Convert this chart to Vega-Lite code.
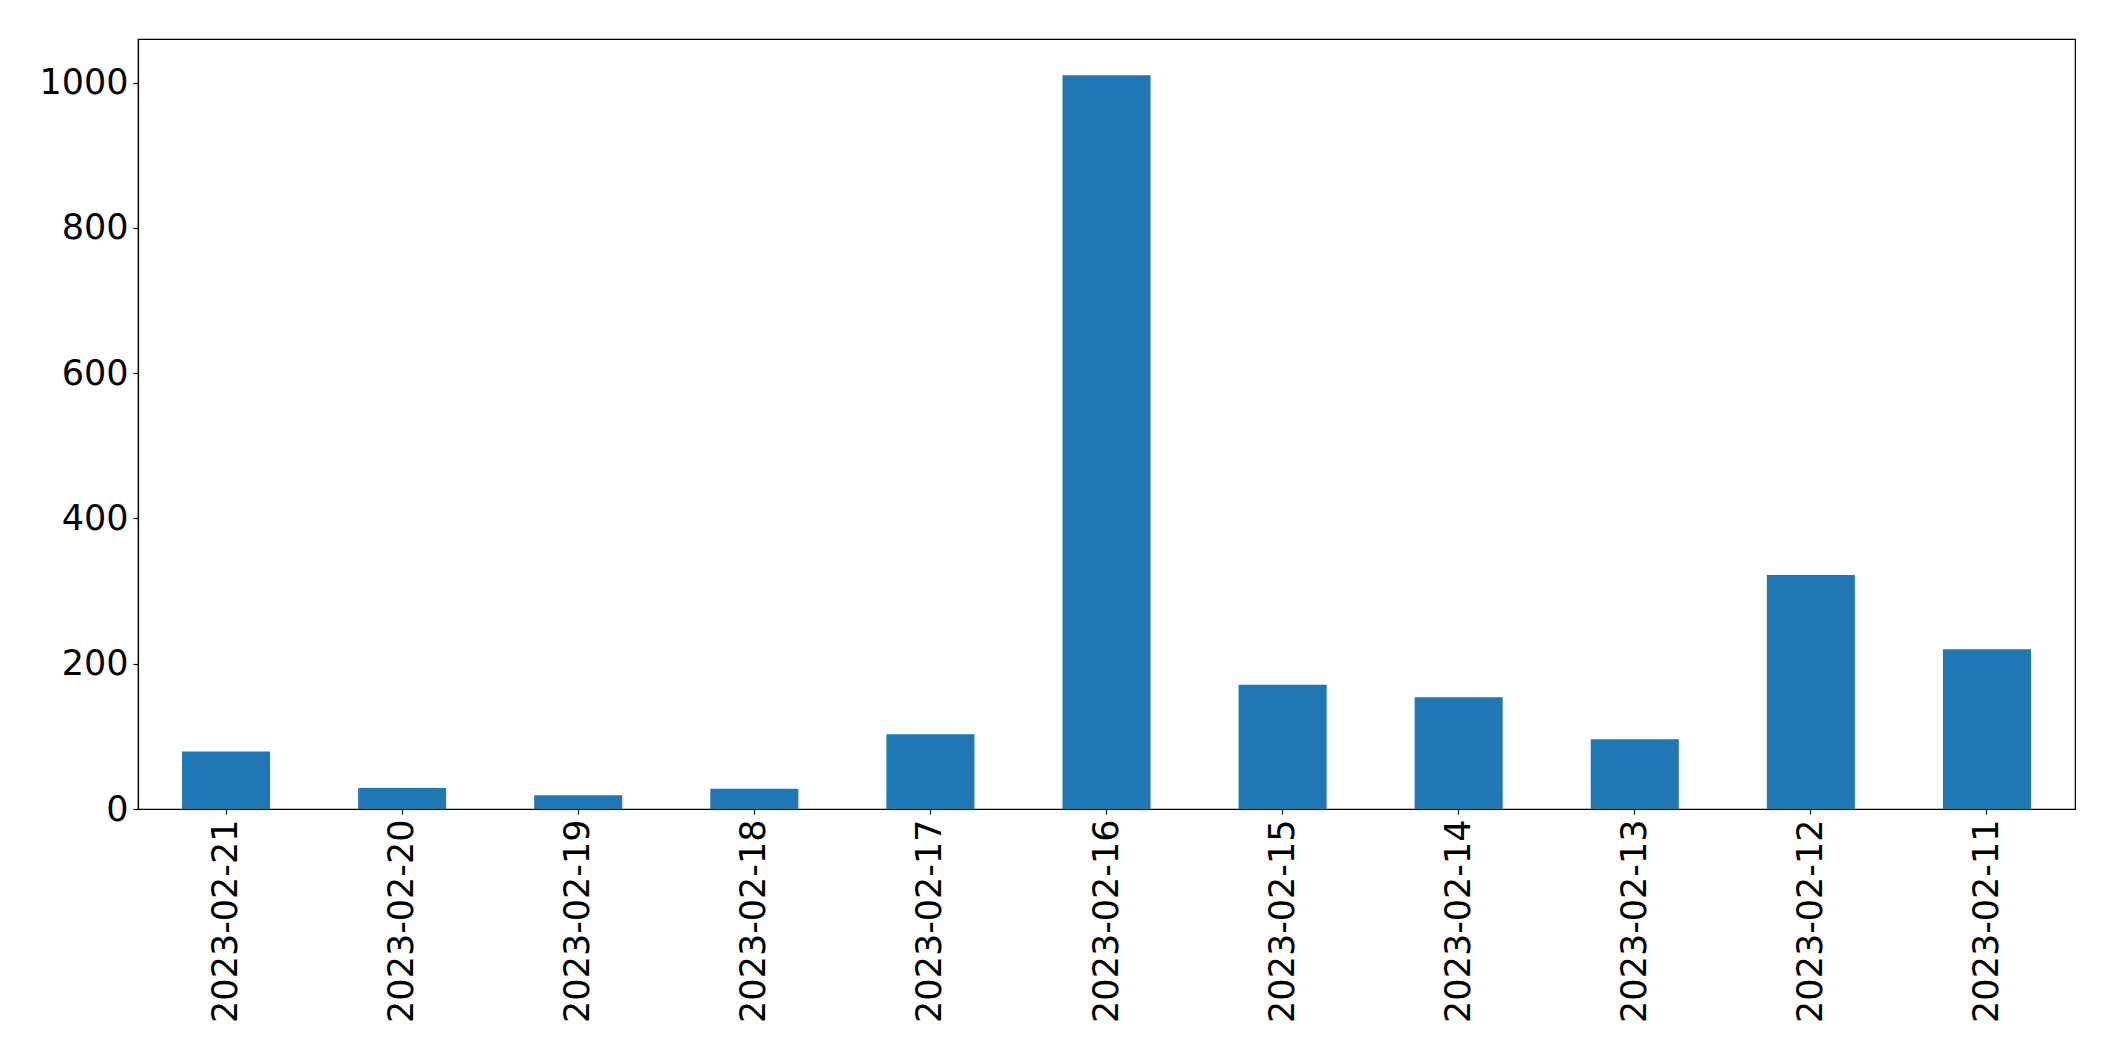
{
  "$schema": "https://vega.github.io/schema/vega-lite/v6.json",
  "autosize": "none",
  "width": 1937,
  "height": 770,
  "padding": {"left": 138, "top": 39, "right": 40, "bottom": 252},
  "background": "white",
  "data": {
    "values": [
      {"date": "2023-02-21", "count": 79},
      {"date": "2023-02-20", "count": 29},
      {"date": "2023-02-19", "count": 19},
      {"date": "2023-02-18", "count": 28},
      {"date": "2023-02-17", "count": 103},
      {"date": "2023-02-16", "count": 1010},
      {"date": "2023-02-15", "count": 171},
      {"date": "2023-02-14", "count": 154},
      {"date": "2023-02-13", "count": 96},
      {"date": "2023-02-12", "count": 322},
      {"date": "2023-02-11", "count": 220}
    ]
  },
  "config": {
    "view": {"stroke": "black", "strokeWidth": 1.2},
    "font": "DejaVu Sans",
    "axis": {
      "labelFont": "DejaVu Sans",
      "labelFontSize": 35,
      "labelColor": "black",
      "labelLimit": 0,
      "domainColor": "black",
      "tickColor": "black",
      "tickSize": 5,
      "tickWidth": 1.2,
      "domainWidth": 1.2,
      "labelPadding": 5,
      "grid": false,
      "title": null
    }
  },
  "mark": {"type": "bar", "color": "#1f77b4"},
  "encoding": {
    "x": {
      "field": "date",
      "type": "nominal",
      "sort": null,
      "scale": {"paddingInner": 0.5, "paddingOuter": 0.25},
      "axis": {"labelAngle": -90, "title": null}
    },
    "y": {
      "field": "count",
      "type": "quantitative",
      "scale": {"domain": [0, 1060], "nice": false},
      "axis": {"values": [0, 200, 400, 600, 800, 1000], "format": "d", "title": null}
    }
  }
}
